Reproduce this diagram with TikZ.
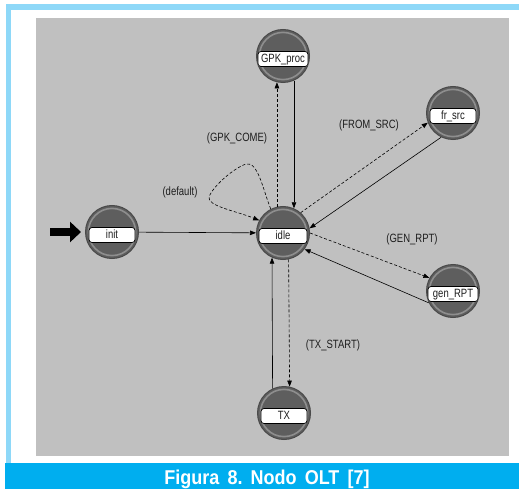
\documentclass[tikz,border=0pt]{standalone}
\usepackage{fontspec}
\setmainfont{Liberation Sans}
\usetikzlibrary{arrows.meta,calc}
\definecolor{bgray}{HTML}{C0C0C0}
\definecolor{frameblue}{HTML}{8ED8F8}
\definecolor{capblue}{HTML}{00AEEF}
\definecolor{stfill}{HTML}{5E5E5E}
\definecolor{stedge}{HTML}{4A4A4A}
\definecolor{string}{HTML}{8E8E8E}
\definecolor{lbltext}{HTML}{1E1E1E}
\newcommand{\tallsf}[1]{\scalebox{0.95}[1.2]{#1}}
\begin{document}
\begin{tikzpicture}[x=1pt,y=-1pt,
  stnode/.style={circle, minimum size=53pt, inner sep=0pt, fill=stfill, draw=stedge, line width=1pt,
    font=\fontsize{10}{12}\selectfont, text=lbltext, text height=15pt, text depth=2pt,
    path picture={
      \draw[string, line width=1.6pt] (path picture bounding box.center) circle (23.6pt);
      \fill[white, draw=black, line width=0.7pt, rounded corners=3pt]
        ($(path picture bounding box.center)+(-#1/2,-4.5)$) rectangle
        ($(path picture bounding box.center)+(#1/2,10.5)$);
    }},
  stnode/.default=46,
  tr/.style={draw=black, line width=0.6pt, -{Triangle[length=6pt,width=4.5pt]}},
  trd/.style={tr, dash pattern=on 3pt off 2pt},
  lbl/.style={font=\fontsize{10}{12}\selectfont, text=lbltext, inner sep=0pt}
]
\useasboundingbox (0,0) rectangle (519,489);
\fill[white] (0,0) rectangle (519,489);
% frame
\fill[frameblue] (6,4) rectangle (519,10);
\fill[frameblue] (6,4) rectangle (11,463);
\fill[bgray] (36,18) rectangle (509,456);
\fill[capblue] (5,463) rectangle (519,489);
\node[anchor=base, text=white, inner sep=0pt, font=\fontsize{20}{24}\selectfont\bfseries] (cap) at (267,484)
  {\scalebox{0.9}[1]{Figura\hspace{9pt}8.\hspace{9pt}Nodo\hspace{9pt}OLT\hspace{9pt}[7]}};

% states
\node[stnode=50] (gpk) at (283,56) {\tallsf{GPK\_proc}};
\node[stnode] (init) at (112,232) {\tallsf{init}};
\node[stnode=48] (idle) at (283,233) {\tallsf{idle}};
\node[stnode] (fr) at (453,113) {\tallsf{fr\_src}};
\node[stnode=50] (gen) at (453,291) {\tallsf{gen\_RPT}};
\node[stnode] (tx) at (284,413) {\tallsf{TX}};

% initial arrow
\coordinate (start) at (50,232);
\draw[line width=8pt, -{Triangle[length=11pt,width=20pt]}] (start) -- ([xshift=-4pt]init.west);

% transitions
\draw[tr] (init) -- (idle);
\draw[trd] (idle.103) -- (gpk.257);
\draw[tr] (gpk.294) -- (idle.66);
\draw[tr] (tx.115) -- (idle.246);
\draw[trd] (idle.282) -- (tx.78);
\draw[trd] (idle.49) -- (fr.201);
\draw[tr] (fr.244) -- (idle.10);
\draw[trd] (idle.0) -- (gen.151);
\draw[tr] (gen.206) -- (idle.323);
\draw[trd] (idle.117) .. controls (263,190) and (258,161) .. (246,164)
  .. controls (234,168) and (213,186) .. (209,197)
  .. controls (207,206) and (236,211) .. (idle.152);

% labels
\node[lbl] (lgpk) at (237,138) {\tallsf{(GPK\_COME)}};
\node[lbl] (ldef) at (180,192) {\tallsf{(default)}};
\node[lbl] (lfr) at (369,125) {\tallsf{(FROM\_SRC)}};
\node[lbl] (lgen) at (412,239) {\tallsf{(GEN\_RPT)}};
\node[lbl] (ltx) at (333,345) {\tallsf{(TX\_START)}};
\end{tikzpicture}
\end{document}
